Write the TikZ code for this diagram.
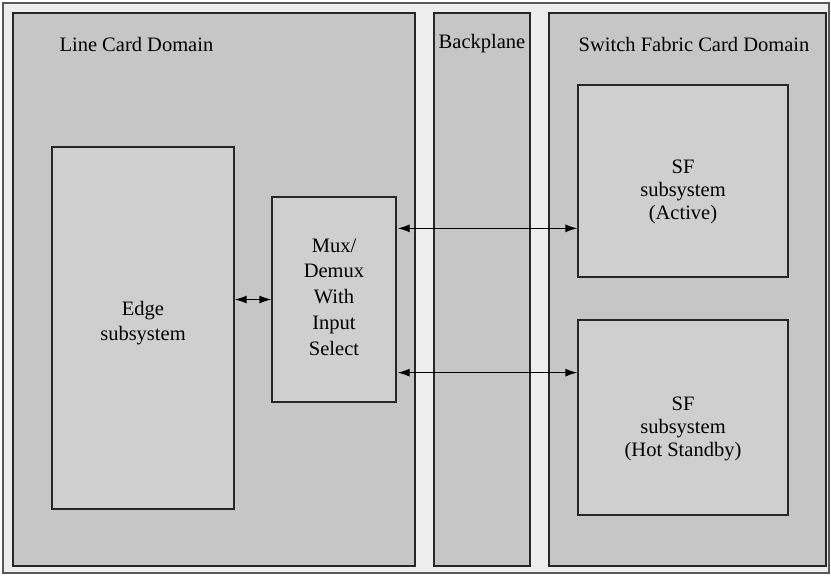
\documentclass[tikz,border=0pt]{standalone}
\usepackage{fontspec}
\setmainfont{Liberation Serif}
\usepackage{tikz}
\usetikzlibrary{calc,arrows.meta}
\definecolor{framebg}{HTML}{EDEDED}
\definecolor{domainbg}{HTML}{C6C6C6}
\definecolor{boxbg}{HTML}{CFCFCF}
\tikzstyle{domainbox}=[draw=black!85, fill=domainbg, line width=1.3pt]
\tikzstyle{subbox}=[draw=black!85, fill=boxbg, line width=1.3pt, inner sep=0pt]
\tikzstyle{boxtext}=[align=center, inner sep=0pt]
\tikzstyle{link}=[{Latex[length=12pt,width=8pt]}-{Latex[length=12pt,width=8pt]}, line width=1.3pt]
\newcommand{\labelfont}{\fontsize{20.5}{24.5}\selectfont}

\begin{document}
\begin{tikzpicture}[x=1pt, y=-1pt, font=\labelfont]
\useasboundingbox (0,0) rectangle (831,576);
\draw[draw=black!65, fill=framebg, line width=1.6pt] (3,3) rectangle (829,573);
% domains
\draw[domainbox] (13,13) rectangle (415,566);
\draw[domainbox] (434,13) rectangle (530,566);
\draw[domainbox] (549,13) rectangle (826,566);
\node[anchor=west] (lcd) at (56,44) {Line Card Domain};
\node (bp) at (482,44) {Backplane};
\node (sfd) at (694,44) {Switch Fabric Card Domain};
% subsystems
\node[subbox, minimum width=182pt, minimum height=362pt] (edge) at (143,328) {};
\node[subbox, minimum width=124pt, minimum height=205pt] (mux) at (334,299.5) {};
\node[subbox, minimum width=210pt, minimum height=192pt] (sfa) at (683,181) {};
\node[subbox, minimum width=210pt, minimum height=195pt] (sfs) at (683,417.5) {};
\node[boxtext] (edge-t) at ($(edge.center)+(0,-5)$) {Edge\\subsystem};
\node[boxtext, font=\fontsize{20.5}{25.7}\selectfont] (mux-t) at ($(mux.center)+(0,-2.5)$) {Mux/\\Demux\\With\\Input\\Select};
\node[boxtext, font=\fontsize{20.5}{23}\selectfont] (sfa-t) at ($(sfa.center)+(0,11)$) {SF\\subsystem\\(Active)};
\node[boxtext, font=\fontsize{20.5}{23}\selectfont] (sfs-t) at ($(sfs.center)+(0,11.5)$) {SF\\subsystem\\(Hot Standby)};
% links
\draw[link] (edge.east |- mux.west) -- (mux.west);
\coordinate (ma) at ($(mux.north east)+(1,32)$);
\coordinate (ms) at ($(mux.south east)+(1,-30)$);
\draw[link] (ma) -- (sfa.west |- ma);
\draw[link] (ms) -- (sfs.west |- ms);
\end{tikzpicture}
\end{document}
